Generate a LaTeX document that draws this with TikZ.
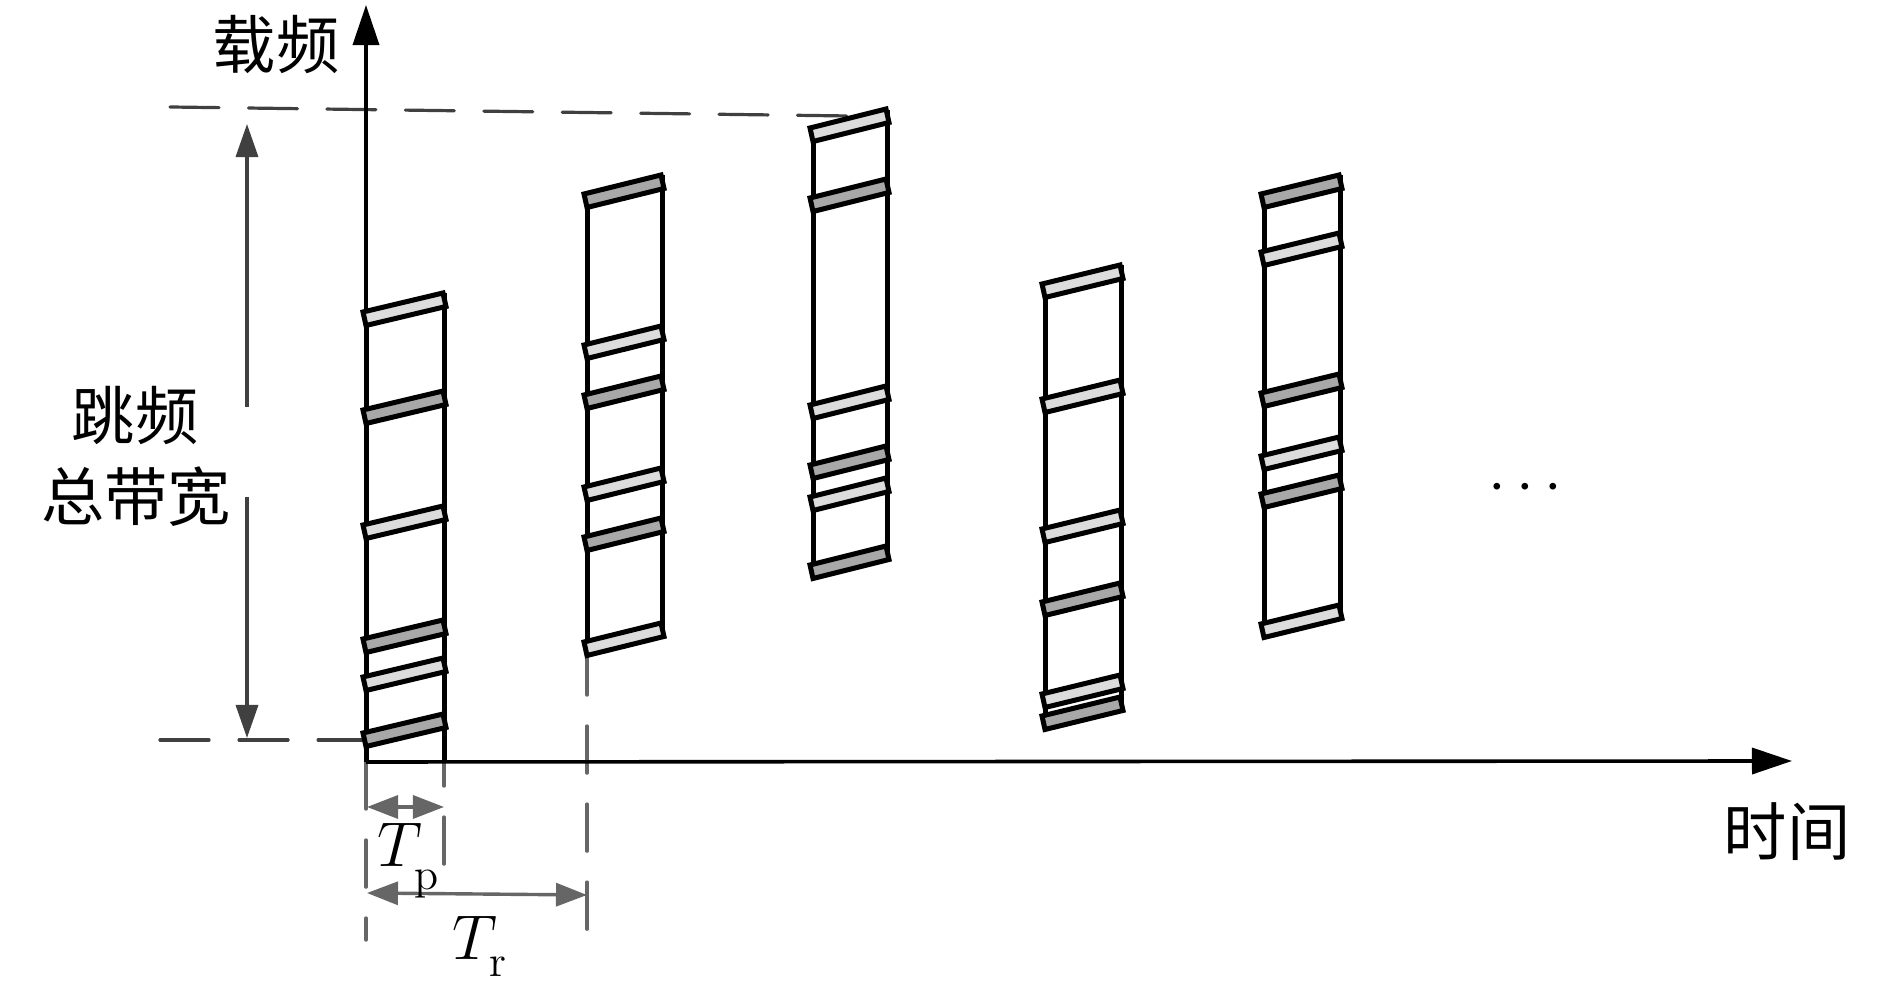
\RequirePackage{fix-cm}
\documentclass[tikz,border=0pt]{standalone}
\usepackage{fontspec}
\newfontfamily\cjk{Noto Sans CJK SC}
\usetikzlibrary{arrows.meta}
\definecolor{bandlt}{HTML}{DCDCDC}
\definecolor{banddk}{HTML}{A8A8A8}
\definecolor{dimgray}{HTML}{666666}
\definecolor{guidegray}{HTML}{404040}
\newcommand\hopband[4]{%
  \filldraw[bandbox,fill=#4] (#1-3,#3) -- (#2-1,#3-19) -- (#2+2,#3-5.5) -- (#1,#3+13.5) -- cycle;}
\newcommand\hopcolumn[5]{%
  \draw[colline] (#1,#3) -- (#1,#4);
  \draw[colline] (#2,#3-19) -- (#2,#5);}
\begin{document}
\begin{tikzpicture}[x=0.01cm,y=-0.01cm,
  axis/.style={line width=0.036cm,-{Triangle[length=0.4cm,width=0.26cm]}},
  colline/.style={line width=0.05cm},
  bandbox/.style={line width=0.05cm,line join=miter},
  guide/.style={guidegray,line width=0.032cm,line cap=round,dash pattern=on 0.49cm off 0.294cm},
  vguide/.style={dimgray,line width=0.034cm,line cap=round,dash pattern=on 0.47cm off 0.31cm},
  dimarrow/.style={dimgray,line width=0.034cm,{Triangle[length=0.31cm,width=0.23cm]}-{Triangle[length=0.31cm,width=0.23cm]}},
  bwarrow/.style={guidegray,line width=0.034cm,-{Triangle[length=0.33cm,width=0.22cm]}},
  lab/.style={inner sep=0pt,font=\fontsize{18}{22}\selectfont\cjk},
  mlab/.style={inner sep=0pt,font=\fontsize{18}{22}\selectfont},
]
\useasboundingbox (0,0) rectangle (1890,983);

% key points
\coordinate (O) at (366,762);
\coordinate (ytip) at (366,5);
\coordinate (xtip) at (1792,761);

% guide dashed lines
\coordinate (g1a) at (170,107);
\coordinate (g1b) at (849,116);
\draw[guide] (g1a) -- (g1b);
\coordinate (g2a) at (160,740);
\coordinate (g2b) at (366,740);
\draw[guide,dash pattern=on 0.49cm off 0.30cm] (g2a) -- (g2b);

% vertical gray dashed lines
\coordinate (v1a) at (366,762);
\coordinate (v1b) at (366,940);
\draw[vguide] (v1a) -- (v1b);
\coordinate (v2a) at (444,739);
\coordinate (v2b) at (444,868);
\draw[vguide] (v2a) -- (v2b);
\coordinate (v3a) at (587,648);
\coordinate (v3b) at (587,933);
\draw[vguide] (v3a) -- (v3b);

% axes
\draw[axis] (O) -- (ytip);
\draw[axis] (O) -- (xtip);

% bandwidth arrow
\coordinate (bwt) at (247,124);
\coordinate (bwu) at (247,407);
\coordinate (bwl) at (247,497);
\coordinate (bwb) at (247,738);
\draw[bwarrow] (bwu) -- (bwt);
\draw[bwarrow] (bwl) -- (bwb);

% columns
\hopcolumn{366}{444}{312}{762}{762}
\foreach \y/\c in {312/bandlt,410/banddk,525/bandlt,639/banddk,677/bandlt,733/banddk}
  {\hopband{366}{444}{\y}{\c}}

\hopcolumn{587}{662}{194}{654}{635}
\foreach \y/\c in {194/banddk,345/bandlt,395/banddk,487/bandlt,537/banddk,642/bandlt}
  {\hopband{587}{662}{\y}{\c}}

\hopcolumn{813}{887}{129}{577}{558}
\foreach \y/\c in {128/bandlt,198/banddk,405/bandlt,465/banddk,497/bandlt,565/banddk}
  {\hopband{813}{887}{\y}{\c}}

\hopcolumn{1045}{1121}{284}{728}{709}
\foreach \y/\c in {284/bandlt,399/bandlt,529/bandlt,602/banddk,694/bandlt,716/banddk}
  {\hopband{1045}{1121}{\y}{\c}}

\hopcolumn{1264}{1340}{194}{636}{617}
\foreach \y/\c in {194/banddk,252/bandlt,393/banddk,456/bandlt,494/banddk,624/bandlt}
  {\hopband{1264}{1340}{\y}{\c}}

% time arrows
\coordinate (tpa) at (367,807);
\coordinate (tpb) at (444,807);
\draw[dimarrow] (tpa) -- (tpb);
\coordinate (tra) at (367,893);
\coordinate (trb) at (587,895);
\draw[dimarrow] (tra) -- (trb);

% labels
\node[lab] (ylabel) at (276,45) {载频};
\node[lab] (xlabel) at (1787,832) {时间};
\node[lab] (bw1) at (135,416) {跳频};
\node[lab] (bw2) at (136,497) {总带宽};
\node[mlab] (dots) at (1525,488) {$\cdots$};
\node[mlab,anchor=base west] (tp) at (377,867) {$T_{\lower0.13cm\hbox{$\scriptstyle\mathrm{p}$}}$};
\node[mlab,anchor=base west] (tr) at (452,960) {$T_{\lower0.07cm\hbox{$\scriptstyle\mathrm{r}$}}$};
\end{tikzpicture}
\end{document}
